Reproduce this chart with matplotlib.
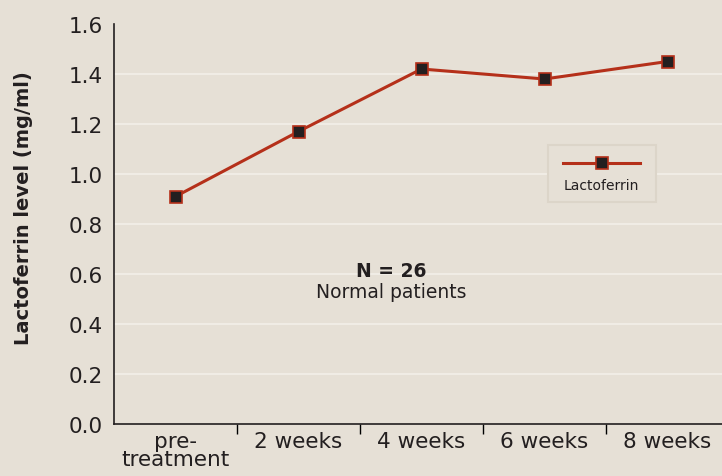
import matplotlib.pyplot as plt
from matplotlib.patches import Rectangle
from matplotlib.lines import Line2D

plt.rcParams['font.family'] = ['DejaVu Sans']

categories = ['pre-\ntreatment', '2 weeks', '4 weeks', '6 weeks', '8 weeks']
lactoferrin = [0.91, 1.17, 1.42, 1.38, 1.45]
y_ticks = [0.0, 0.2, 0.4, 0.6, 0.8, 1.0, 1.2, 1.4, 1.6]

bg = '#E6E0D6'
red = '#B5301A'
ink = '#231f20'

fig = plt.figure(figsize=(7.22, 4.77), dpi=100, facecolor=bg)
ax = fig.add_axes([114 / 722, 52 / 477, 615 / 722, 400 / 477], facecolor=bg)

x = [i + 0.5 for i in range(len(categories))]
ax.plot(x, lactoferrin, color=red, lw=2.2, marker='s', ms=8,
        mfc=ink, mec=red, mew=1.2, zorder=3)

ax.set_xlim(0, len(categories))
ax.set_ylim(0, 1.6)
ax.set_yticks(y_ticks)
ax.set_yticklabels([f'{v:.1f}' for v in y_ticks])
ax.set_xticks(x)
ax.set_xticklabels(categories, linespacing=0.85)
ax.set_xticks(range(1, len(categories)), minor=True)
ax.tick_params(axis='x', which='major', length=0, labelsize=15.5, pad=5, colors=ink)
ax.tick_params(axis='x', which='minor', length=7, width=1, direction='out')
ax.tick_params(axis='y', length=0, labelsize=15.5, pad=8, colors=ink)

for v in y_ticks[1:-1]:
    ax.axhline(v, color='#F0ECE5', lw=1.5, zorder=0)

for s in ['top', 'right']:
    ax.spines[s].set_visible(False)
for s in ['left', 'bottom']:
    ax.spines[s].set_linewidth(1.2)
    ax.spines[s].set_color(ink)

ax.set_ylabel('Lactoferrin level (mg/ml)', fontsize=14, fontweight='bold',
              color=ink)
ax.yaxis.set_label_coords(-0.132, 0.5425)

ax.text(2.25, 0.615, 'N = 26', ha='center', va='center', fontsize=13.5,
        fontweight='bold', color=ink)
ax.text(2.25, 0.53, 'Normal patients', ha='center', va='center', fontsize=13.5,
        color=ink)

# legend box
ax.add_patch(Rectangle((3.53, 0.89), 0.88, 0.225, facecolor=bg,
                       edgecolor='#DCD5C9', lw=1.5, zorder=4))
ax.add_line(Line2D([3.65, 4.28], [1.045, 1.045], color=red, lw=2.2,
                   zorder=5))
ax.add_line(Line2D([3.965], [1.045], marker='s', ms=8, mfc=ink,
                   mec=red, mew=1.2, zorder=6))
ax.text(3.965, 0.955, 'Lactoferrin', ha='center', va='center', fontsize=10,
        color=ink, zorder=6)

fig.savefig('out.png', dpi=100, facecolor=bg)
